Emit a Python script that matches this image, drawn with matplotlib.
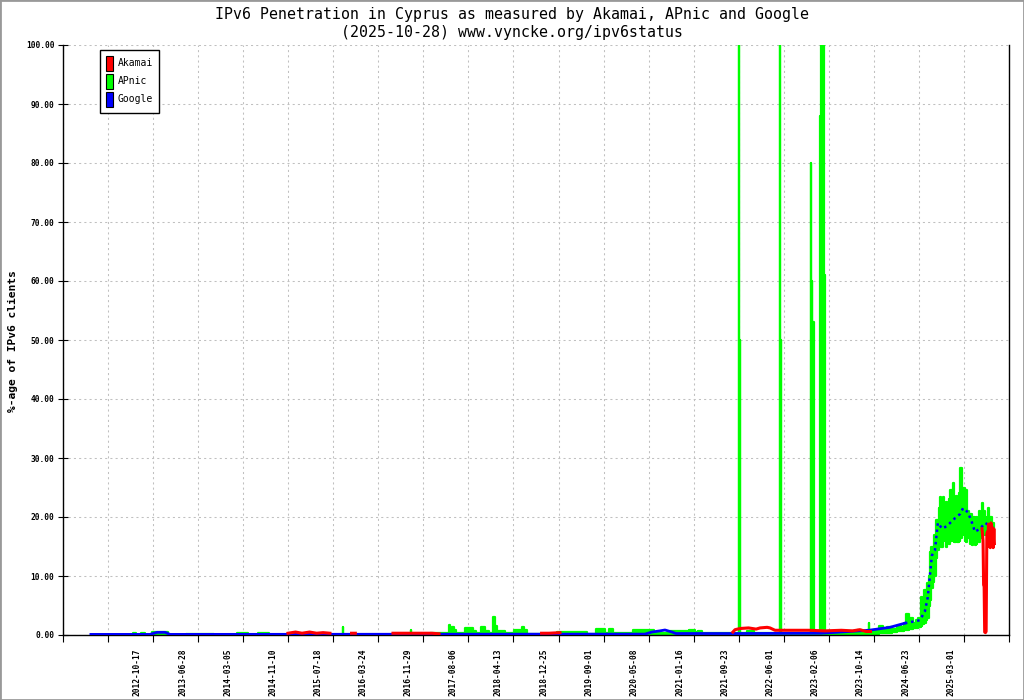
import numpy as np
import pandas as pd
import matplotlib
matplotlib.use("Agg")
import matplotlib.pyplot as plt
import matplotlib.dates as mdates
from matplotlib.patches import Patch, Rectangle

title = "IPv6 Penetration in Cyprus as measured by Akamai, APnic and Google"
subtitle = "(2025-10-28) www.vyncke.org/ipv6status"
ylabel = "%-age of IPv6 clients"

tick_labels = ["2012-10-17", "2013-06-28", "2014-03-05", "2014-11-10", "2015-07-18",
               "2016-03-24", "2016-11-29", "2017-08-06", "2018-04-13", "2018-12-25",
               "2019-09-01", "2020-05-08", "2021-01-16", "2021-09-23", "2022-06-01",
               "2023-02-06", "2023-10-14", "2024-06-23", "2025-03-01"]

# Google (blue)
google_dates = ["2012-02-03", "2012-12-27", "2013-02-04", "2013-03-21", "2013-04-17",
                "2020-07-06", "2020-08-13", "2020-09-27", "2020-10-25", "2020-12-03",
                "2020-12-25", "2021-12-16", "2023-03-10", "2023-08-18", "2023-12-01",
                "2024-03-27", "2024-06-18", "2024-09-09", "2024-10-07", "2024-10-23",
                "2024-11-15", "2024-12-02", "2024-12-18", "2025-01-11", "2025-02-07",
                "2025-03-23", "2025-04-20", "2025-05-07", "2025-06-03", "2025-06-26",
                "2025-07-12", "2025-08-09", "2025-09-06", "2025-10-04", "2025-10-28"]
google_values = [0.1, 0.1, 0.45, 0.45, 0.1,
                 0.15, 0.5, 0.7, 0.85, 0.5,
                 0.25, 0.25, 0.3, 0.6, 0.8,
                 1.3, 2.0, 2.5, 4.0, 6.4,
                 13.5, 14.4, 19.0, 18.0, 18.5,
                 19.8, 20.5, 21.5, 20.8, 19.0,
                 17.5, 18.0, 19.0, 18.5, 18.0]

# Akamai (red), None = no data
akamai_dates = ["2015-02-01", "2015-03-15", "2015-04-20", "2015-06-01", "2015-07-10",
                "2015-08-15", "2015-09-22", "2015-10-01",
                "2016-01-20", "2016-02-10", "2016-03-01",
                "2016-09-06", "2016-12-01", "2017-02-15", "2017-04-11", "2017-05-20", "2017-06-01",
                "2018-12-10", "2019-01-20", "2019-03-22", "2019-04-01",
                "2021-11-06", "2021-11-18", "2021-12-16", "2022-02-01", "2022-03-15",
                "2022-04-06", "2022-05-15", "2022-05-31", "2022-06-28", "2022-09-01",
                "2023-01-01", "2023-04-01", "2023-07-01", "2023-09-01", "2023-10-12",
                "2023-11-15", "2023-12-10", "2023-12-20",
                "2025-08-20", "2025-08-26", "2025-08-29", "2025-09-01", "2025-09-04",
                "2025-09-08", "2025-09-12", "2025-09-16", "2025-09-19", "2025-09-22",
                "2025-09-25", "2025-09-28", "2025-10-01", "2025-10-05", "2025-10-09",
                "2025-10-13", "2025-10-17", "2025-10-21", "2025-10-25", "2025-10-28"]
akamai_values = [0.3, 0.5, 0.3, 0.5, 0.3,
                 0.4, 0.3, None,
                 0.3, 0.3, None,
                 0.3, 0.3, 0.3, 0.3, 0.2, None,
                 0.3, 0.3, 0.4, None,
                 0.5, 0.9, 1.1, 1.2, 1.0,
                 1.2, 1.3, 1.2, 0.8, 0.8,
                 0.8, 0.7, 0.8, 0.7, 0.9,
                 0.6, 0.6, None,
                 18.0, 16.0, 8.5, 8.2, 0.5,
                 0.4, 0.6, 17.0, 17.5, 15.0,
                 18.8, 15.0, 18.5, 14.8, 19.0,
                 15.0, 18.2, 14.8, 18.0, 15.5]

# APnic (green): daily low / high per period
apnic_dates = ["2012-02-03", "2012-09-15", "2012-10-01", "2012-10-20", "2012-11-20",
               "2012-12-10", "2013-02-04", "2013-03-21", "2013-04-17", "2013-10-10",
               "2014-03-01", "2014-06-15", "2014-07-01", "2014-10-10", "2014-10-25",
               "2015-05-01", "2015-11-29", "2015-12-03", "2015-12-07", "2016-12-10",
               "2016-12-15", "2016-12-20", "2017-07-10", "2017-07-14", "2017-07-20",
               "2017-08-05", "2017-08-15", "2017-09-01", "2017-11-19", "2017-12-05",
               "2017-12-20", "2018-01-24", "2018-02-05", "2018-03-10", "2018-03-21",
               "2018-04-01", "2018-04-15", "2018-05-15", "2018-06-01", "2018-08-20",
               "2018-08-28", "2018-09-10", "2018-09-25", "2019-08-13", "2019-08-25",
               "2019-11-21", "2019-12-01", "2020-01-05", "2020-01-15", "2020-08-13",
               "2020-09-01", "2021-02-15", "2021-03-30", "2021-04-15", "2021-05-08",
               "2021-06-01", "2021-12-09", "2021-12-11", "2021-12-13", "2021-12-16",
               "2021-12-18", "2022-03-01", "2022-03-10", "2022-07-25", "2022-07-27",
               "2022-07-29", "2022-08-01", "2022-08-03", "2023-01-13", "2023-01-15",
               "2023-01-17", "2023-01-20", "2023-01-22", "2023-01-28", "2023-01-30",
               "2023-03-02", "2023-03-04", "2023-03-08", "2023-03-13", "2023-03-19",
               "2023-03-24", "2023-03-30", "2023-04-02", "2023-08-18", "2023-09-15",
               "2023-10-12", "2023-11-10", "2023-11-28", "2023-12-01", "2023-12-04",
               "2024-01-10", "2024-02-15", "2024-02-22", "2024-03-27", "2024-04-20",
               "2024-05-15", "2024-06-05", "2024-06-18", "2024-07-05", "2024-07-12",
               "2024-07-25", "2024-08-10", "2024-08-25", "2024-09-09", "2024-09-20",
               "2024-09-26", "2024-10-07", "2024-10-15", "2024-10-23", "2024-11-04",
               "2024-11-10", "2024-11-15", "2024-11-22", "2024-12-02", "2024-12-10",
               "2024-12-18", "2024-12-26", "2025-01-03", "2025-01-11", "2025-01-19",
               "2025-01-27", "2025-02-04", "2025-02-12", "2025-02-20", "2025-02-28",
               "2025-03-08", "2025-03-16", "2025-03-24", "2025-04-01", "2025-04-09",
               "2025-04-17", "2025-04-25", "2025-05-03", "2025-05-11", "2025-05-19",
               "2025-05-27", "2025-06-04", "2025-06-12", "2025-06-20", "2025-06-28",
               "2025-07-06", "2025-07-14", "2025-07-22", "2025-07-30", "2025-08-07",
               "2025-08-15", "2025-08-23", "2025-08-31", "2025-09-08", "2025-09-16",
               "2025-09-24", "2025-10-02", "2025-10-10", "2025-10-18", "2025-10-28"]
apnic_low = [0.0, 0.0, 0.0, 0.0, 0.0,
             0.0, 0.1, 0.1, 0.0, 0.0,
             0.0, 0.0, 0.0, 0.0, 0.0,
             0.0, 0.0, 0.0, 0.0, 0.0,
             0.0, 0.0, 0.0, 0.0, 0.0,
             0.0, 0.0, 0.0, 0.0, 0.0,
             0.0, 0.0, 0.0, 0.0, 0.0,
             0.0, 0.0, 0.0, 0.0, 0.0,
             0.0, 0.0, 0.0, 0.0, 0.0,
             0.0, 0.0, 0.0, 0.0, 0.0,
             0.0, 0.0, 0.0, 0.0, 0.0,
             0.0, 0.0, 0.0, 0.0, 0.0,
             0.0, 0.0, 0.0, 0.0, 0.0,
             0.0, 0.0, 0.0, 0.0, 0.0,
             0.0, 0.0, 0.0, 0.0, 0.0,
             0.0, 0.0, 0.0, 0.0, 0.0,
             0.0, 0.0, 0.0, 0.0, 0.1,
             0.1, 0.2, 0.2, 0.2, 0.2,
             0.2, 0.3, 0.3, 0.4, 0.5,
             0.6, 0.7, 0.8, 0.9, 1.0,
             1.0, 1.2, 1.2, 1.3, 1.5,
             1.8, 2.0, 2.5, 2.8, 5.0,
             6.0, 8.0, 9.0, 10.0, 13.0,
             14.4, 16.5, 15.5, 15.0, 16.0,
             16.6, 15.0, 16.5, 15.5, 16.0,
             17.0, 16.0, 15.8, 16.5, 15.8,
             16.0, 16.5, 17.0, 17.5, 16.0,
             15.8, 16.5, 17.0, 15.5, 15.3,
             16.0, 15.3, 15.5, 16.5, 15.8,
             16.5, 17.0, 17.0, 17.5, 17.0,
             17.0, 16.5, 17.5, 16.0, 17.0]
apnic_high = [0.0, 0.0, 0.3, 0.0, 0.3,
              0.0, 0.55, 0.5, 0.0, 0.2,
              0.0, 0.3, 0.0, 0.35, 0.0,
              0.2, 0.0, 1.4, 0.0, 0.0,
              0.8, 0.0, 0.3, 1.7, 0.6,
              1.4, 0.8, 0.3, 1.2, 0.7,
              0.3, 1.4, 0.6, 0.4, 3.0,
              1.5, 0.6, 0.7, 0.3, 0.9,
              1.3, 0.9, 0.2, 0.5, 0.2,
              1.0, 0.3, 1.0, 0.3, 0.8,
              0.4, 0.6, 0.9, 0.5, 0.7,
              0.3, 0.3, 100.0, 0.4, 50.0,
              0.4, 0.6, 0.3, 0.3, 100.0,
              0.4, 50.0, 0.4, 0.4, 80.0,
              0.5, 60.0, 0.5, 53.0, 0.4,
              0.4, 44.0, 88.0, 100.0, 100.0,
              100.0, 61.0, 0.5, 0.6, 0.4,
              0.9, 0.5, 0.8, 2.1, 0.7,
              0.9, 1.5, 0.8, 1.4, 1.0,
              1.6, 1.3, 2.0, 3.6, 2.2,
              2.8, 2.0, 2.6, 2.9, 6.5,
              3.0, 7.6, 5.0, 8.8, 10.0,
              14.0, 15.0, 13.5, 17.0, 19.5,
              19.5, 21.5, 23.4, 22.0, 23.4,
              20.5, 22.5, 21.0, 23.0, 24.5,
              22.0, 25.8, 21.0, 23.5, 20.5,
              24.0, 28.3, 21.5, 25.0, 22.0,
              24.5, 21.0, 20.0, 20.5, 19.5,
              20.0, 19.0, 20.0, 19.5, 21.0,
              20.5, 22.4, 21.0, 20.0, 19.5,
              21.5, 19.5, 20.0, 19.0, 18.5]

MONO = "DejaVu Sans Mono"
RED, GREEN, BLUE = "#ff0000", "#00ff00", "#0000ff"

fig = plt.figure(figsize=(10.24, 7.0), dpi=100)
ax = fig.add_axes([63 / 1024, 65 / 700, 946 / 1024, 590 / 700])

g_x = mdates.date2num(pd.to_datetime(google_dates))
g_y = np.array(google_values, dtype=float)
a_x = mdates.date2num(pd.to_datetime(akamai_dates))
a_y = np.array([np.nan if v is None else v for v in akamai_values], dtype=float)
p_x = mdates.date2num(pd.to_datetime(apnic_dates))

ax.fill_between(p_x, apnic_low, apnic_high, step="mid", facecolor=GREEN,
                edgecolor=GREEN, linewidth=1.6, zorder=2)

# google: solid while small, dotted through the noisy apnic band
split = mdates.date2num(pd.Timestamp("2024-07-01"))
ax.plot(g_x[g_x <= split], g_y[g_x <= split], color=BLUE, lw=2.0, zorder=3)
late = g_x >= mdates.date2num(pd.Timestamp("2024-06-18"))
ax.plot(g_x[late], g_y[late], color=BLUE, lw=1.8, ls=(0, (1, 1.5)), zorder=3)

ax.plot(a_x, a_y, color=RED, lw=2.2, zorder=4)

# axes
xmin = mdates.date2num(pd.Timestamp("2011-09-01"))
xmax = mdates.date2num(pd.Timestamp("2026-01-17"))
ax.set_xlim(xmin, xmax)
ax.set_ylim(0, 100)

ax.set_xticks(np.linspace(xmin, xmax, 22))
ax.set_xticklabels([])
ax.set_xticks(mdates.date2num(pd.to_datetime(tick_labels)), minor=True)
ax.set_xticklabels(tick_labels, minor=True, rotation=90, fontsize=5.7,
                   fontweight="bold", family=MONO)
ax.tick_params(axis="x", which="major", direction="out", length=5, width=0.8)
ax.tick_params(axis="x", which="minor", length=0, pad=9.4)

ax.set_yticks(np.arange(0, 101, 10))
ax.set_yticklabels([f"{v:.2f}" for v in np.arange(0, 101, 10)],
                   fontsize=5.7, fontweight="bold", family=MONO)
ax.tick_params(axis="y", direction="inout", length=6.5, width=0.8, pad=3)

ax.grid(True, which="major", color="#c0c0c0", lw=0.75, ls=(0, (2, 3)))
ax.set_axisbelow(True)
ax.spines["top"].set_visible(False)
for s in ["left", "bottom", "right"]:
    ax.spines[s].set_color("black")
    ax.spines[s].set_linewidth(1.0)

fig.text(0.5, 1 - 14 / 700, title, ha="center", va="center", fontsize=10.7, family=MONO)
fig.text(0.5, 1 - 32 / 700, subtitle, ha="center", va="center", fontsize=10.7, family=MONO)
fig.text(13 / 1024, 1 - 341 / 700, ylabel, rotation=90, ha="center", va="center",
         fontsize=8.1, fontweight="bold", family=MONO)

handles = [Patch(facecolor=RED, edgecolor="black", lw=0.8, label="Akamai"),
           Patch(facecolor=GREEN, edgecolor="black", lw=0.8, label="APnic"),
           Patch(facecolor=BLUE, edgecolor="black", lw=0.8, label="Google")]
leg = ax.legend(handles=handles, loc="upper left", bbox_to_anchor=(100 / 1024, 1 - 50 / 700),
                bbox_transform=fig.transFigure, borderaxespad=0, fancybox=False,
                framealpha=1, edgecolor="black", handlelength=0.7, handleheight=2.0,
                handletextpad=0.55, borderpad=0.6, labelspacing=0.3,
                prop={"family": MONO, "size": 7})
leg.get_frame().set_linewidth(1.0)
leg.set_zorder(10)

fig.patches.append(Rectangle((0, 0), 1, 1, transform=fig.transFigure, fill=False,
                             edgecolor="#999999", lw=2))

fig.savefig("out.png", dpi=100)
